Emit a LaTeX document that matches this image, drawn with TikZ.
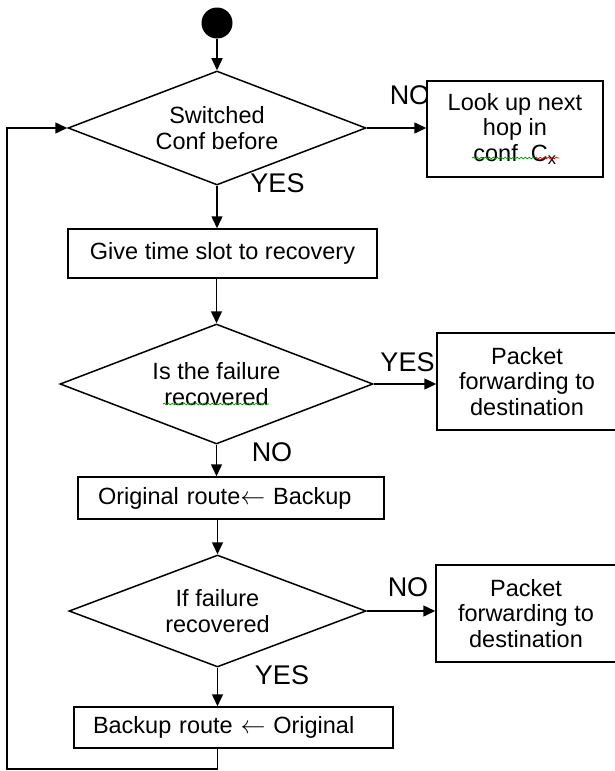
\documentclass[tikz,border=0pt]{standalone}
\usepackage{fontspec}
\setmainfont{Liberation Sans}
\usetikzlibrary{shapes.geometric,arrows.meta,decorations.pathmorphing}

\tikzset{
    decision/.style={diamond, draw, line width=1.5pt, inner sep=0pt, align=center, shape aspect=2.6},
    process/.style={rectangle, draw, fill=white, line width=1.5pt, inner sep=0pt, align=center},
    answer/.style={font=\fontsize{27}{27}\selectfont, inner sep=0pt},
    flow/.style={->, line width=1.5pt},
    squiggle/.style={line width=0.7pt, decorate, decoration={snake, amplitude=0.9pt, segment length=4pt}}
}

\begin{document}
\begin{tikzpicture}[
    x=1pt,
    y=-1pt,
    >={Triangle[length=12pt,width=11pt]},
    font=\fontsize{23.5}{25.5}\selectfont]
    \clip (0,0) rectangle (615,771);

    % Start point
    \node[circle, fill, inner sep=0pt, minimum size=31pt] (start) at (217,23) {};

    % Decisions and their answers
    \node[decision, minimum width=298pt, minimum height=114pt] (switched) at (217,128) {Switched\\Conf before};
    \node[answer] (no1) at (410,95) {NO};
    \node[answer] (yes1) at (277.5,183) {YES};

    \node[decision, minimum width=313pt, minimum height=120pt] (isrec) at (216.5,384) {Is the failure\\recovered};
    \node[answer] (yes2) at (407.5,362) {YES};
    \node[answer] (no2) at (272,452) {NO};

    \node[decision, minimum width=297pt, minimum height=112pt] (ifrec) at (217.5,611) {If failure\\recovered};
    \node[answer] (no3) at (408,587) {NO};
    \node[answer] (yes3) at (282,675) {YES};

    % Process boxes
    \node[process, minimum width=309pt, minimum height=49pt] (slot) at (222.5,253.5) {Give time slot to recovery};
    \node[process, minimum height=42pt, text width=266pt, inner xsep=20pt, align=left] (orig) at (231,498) {Original route$\leftarrow$ Backup};
    \node[process, minimum height=41pt, text width=281pt, inner xsep=19pt, align=left] (back) at (233.5,727.5) {Backup route $\leftarrow$ Original};

    % Side boxes (drawn over the NO/YES labels)
    \node[process, minimum width=176pt, minimum height=96pt] (lookup) at (515,129) {Look up next\\hop in\\conf\ \ C\textsubscript{x}};
    \node[process, minimum width=180pt, minimum height=97pt] (fwd1) at (527,381.5) {Packet\\forwarding to\\destination};
    \node[process, minimum width=180pt, minimum height=97pt] (fwd2) at (526,613.5) {Packet\\forwarding to\\destination};

    % Spell check marks
    \draw[squiggle, green!60!black] (472,158) -- (535,158);
    \draw[squiggle, red] (535,158) -- (559,158);
    \draw[squiggle, green!60!black] (163,404) -- (269,404);

    % Main flow
    \draw[flow] (start) -- (switched);
    \draw[flow] (switched.south) -- (switched.south |- slot.north);
    \draw[flow] (isrec.north |- slot.south) -- (isrec.north);
    \draw[flow] (isrec.south) -- (isrec.south |- orig.north);
    \draw[flow] (ifrec.north |- orig.south) -- (ifrec.north);
    \draw[flow] (ifrec.south) -- (ifrec.south |- back.north);

    % Branches to the right
    \draw[flow] (switched.east) -- (switched.east -| lookup.west);
    \draw[flow] (isrec.east) -- (isrec.east -| fwd1.west);
    \draw[flow] (ifrec.east) -- (ifrec.east -| fwd2.west);

    % Loop back
    \coordinate (corner) at (7,769);
    \draw[flow] (ifrec.south |- back.south) |- (corner) |- (switched.west);
\end{tikzpicture}
\end{document}
